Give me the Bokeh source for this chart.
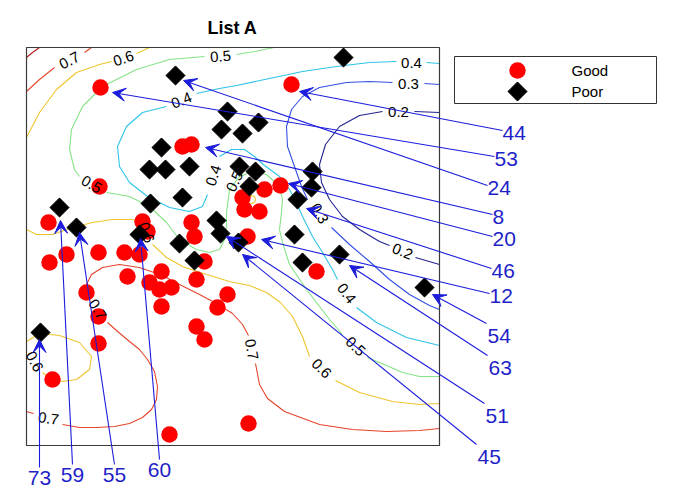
import math
from bokeh.plotting import figure
from bokeh.models import Range1d, ColumnDataSource, Arrow, VeeHead
from bokeh.core.properties import value
from bokeh.embed import file_html
from bokeh.resources import INLINE

nan = float("nan")

title_text = "List A"
classes = ["Good", "Poor"]

# limits of the plot box (data units)
x_lim = [0, 413]
y_lim = [0, 398]

# ---- scatter data ----
good_x = [74, 265, 156, 165, 73, 22, 116, 121, 40, 23, 72, 98, 113, 101, 135, 123, 145, 133, 135, 60,
          72, 72, 26, 143, 222, 165, 168, 178, 170, 201, 191, 170, 178, 216, 218, 233, 238, 254, 221, 290]
good_y = [358, 361, 299, 301, 259, 223, 224, 214, 191, 183, 193, 193, 191, 169, 174, 163, 158, 156, 139, 153,
          129, 102, 66, 11, 22, 223, 209, 184, 166, 151, 138, 119, 106, 248, 236, 234, 256, 260, 209, 174]

poor_x = [317, 149, 201, 195, 216, 232, 135, 123, 139, 163, 156, 124, 213, 229, 223, 286, 285, 271, 268, 276,
          313, 398, 33, 50, 113, 153, 168, 190, 194, 212, 14]
poor_y = [388, 370, 334, 316, 312, 323, 298, 276, 276, 279, 248, 242, 279, 274, 259, 274, 258, 246, 211, 183,
          191, 158, 238, 218, 211, 202, 185, 225, 212, 203, 113]

# ---- contour traces (NaN separates pieces) ----
c02_x = [413, 388, nan, 356, 333, 313, 299, 293, 295, 303, 316, 333, 353, 363, nan, 389, 413]
c02_y = [333, 334, nan, 334, 330, 319, 301, 281, 263, 246, 229, 216, 204, 200, nan, 188, 181]

c03_x = [413, 398, nan, 366, 343, 320, 293, 276, 265, 260, 261, 268, 275, 281, nan,
         305, 323, 343, 363, 383, 403, 413]
c03_y = [361, 362, nan, 363, 364, 363, 358, 349, 336, 319, 299, 279, 259, 246, nan,
         218, 201, 184, 166, 151, 140, 136]

c04_x = [413, 400, nan, 370, 343, 310, 276, 243, 210, 193, 170, nan,
         140, 116, 100, 91, 93, 103, 121, 143, 163, 176, 181, nan,
         193, 205, 218, 228, 238, 253, 263, 270, 276, 286, 296, 306, 311, nan,
         330, 350, 380, 413]
c04_y = [382, 383, nan, 384, 383, 379, 374, 367, 360, 357, 352, nan,
         339, 333, 319, 299, 279, 263, 249, 238, 234, 239, 251, nan,
         289, 296, 296, 289, 280, 269, 256, 243, 229, 209, 193, 176, 166, nan,
         138, 123, 108, 100]

c05_x = [248, 228, 210, nan, 178, 143, 110, 76, 56, 45, 43, 48, 53, nan,
         80, 103, 123, 140, 153, 170, 183, 193, 198, 200, 200, 203, 213, 226, 240, 253, 256, 255, 253,
         256, 263, 280, 303, 316, nan, 341, 353, 376, 393, 413]
c05_y = [398, 394, 391, nan, 389, 386, 376, 359, 339, 316, 296, 276, 269, nan,
         253, 249, 239, 223, 206, 196, 193, 196, 206, 219, 233, 256, 269, 274, 271, 259, 246, 233, 216,
         203, 181, 156, 126, 111, nan, 88, 83, 73, 69, 69]

c06_x = [0, 13, 30, 50, 73, 85, nan, 110, 123, nan,
         0, 10, 26, 46, 66, 86, 106, 113, nan,
         126, 140, 156, 180, 203, 223, 240, 254, 266, 276, 283, nan,
         309, 333, 366, 393, 413, nan,
         0, 13, 33, 53, 65, 63, 50, 36, 21, 16, nan,
         229, 228, 225, 222, 221, 222, 225, 228, 229]
c06_y = [308, 333, 356, 373, 381, 384, nan, 392, 398, nan,
         216, 211, 211, 218, 223, 226, 226, 224, nan,
         201, 188, 179, 171, 164, 160, 153, 143, 129, 109, 89, nan,
         65, 53, 44, 41, 42, nan,
         104, 112, 110, 103, 89, 76, 66, 64, 69, 73, nan,
         246, 249, 250, 249, 246, 243, 242, 243, 246]

c07_x = [0, 13, 28, nan, 58, 65, nan, 0, 7, nan,
         36, 53, 70, 88, 103, 116, 125, 130, 131, 128, 121, 113, 103, 90, 81, nan,
         61, 60, 65, 76, 93, 113, 136, 153, 173, 190, 206, 216, 222, nan,
         229, 233, 241, 258, 293, 326, 360, 393, 413]
c07_y = [354, 366, 378, nan, 393, 398, nan, 34, 32, nan,
         21, 18, 18, 19, 22, 28, 36, 46, 59, 74, 86, 96, 104, 115, 123, nan,
         149, 161, 171, 178, 181, 178, 170, 161, 151, 142, 132, 121, 110, nan,
         82, 61, 47, 34, 21, 16, 14, 15, 17]

c08_x = [0, 6, 13]
c08_y = [388, 393, 398]

contour_x = [c02_x, c03_x, c04_x, c05_x, c06_x, c07_x, c08_x]
contour_y = [c02_y, c03_y, c04_y, c05_y, c06_y, c07_y, c08_y]
contour_colors = ["#22228f", "#3350e6", "#2ec4e8", "#86e486", "#efc52e", "#e5452c", "#b41e1e"]

# contour labels
clabel_text = ["0.7", "0.6", "0.5", "0.4", "0.3", "0.2", "0.4", "0.5", "0.4", "0.5",
               "0.3", "0.6", "0.7", "0.7", "0.6", "0.5", "0.4", "0.2", "0.7", "0.6"]
clabel_x = [43, 97, 194, 385, 382, 372, 155, 65, 187, 208, 293, 120, 71, 225, 295, 329, 320, 376, 22, 8]
clabel_y = [385, 387, 389, 383, 362, 334, 345, 261, 270, 264, 232, 213, 136, 96, 77, 99, 152, 194, 27, 84]
clabel_angle = [27, 18, 4, 0, 0, 0, 22, -31, 72, 65, -60, -70, -58, -80, -45, -43, -52, -22, -8, -62]

# arrows
arrow_ids = ["44", "53", "24", "8", "20", "46", "12", "54", "63", "51", "45", "73", "59", "55", "60"]
arrow_tail_x = [476, 468, 461, 466, 466, 465, 463, 460, 461, 458, 450, 13, 46, 88, 133]
arrow_tail_y = [315, 289, 260, 231, 209, 177, 152, 122, 90, 42, 1, -22, -19, -19, -14]
arrow_head_x = [273, 86, 157, 179, 262, 280, 235, 406, 323, 200, 216, 13, 34, 53, 114]
arrow_head_y = [354, 353, 365, 298, 262, 237, 206, 151, 180, 209, 191, 106, 225, 213, 207]

# ---- figure ----
p = figure(width=669, height=494, x_range=Range1d(-26, 643), y_range=Range1d(-49, 445),
           output_backend="svg", toolbar_location=None, x_axis_location=None, y_axis_location=None,
           min_border=0, min_border_left=0, min_border_right=0, min_border_top=0, min_border_bottom=0)
p.xgrid.visible = False
p.ygrid.visible = False
p.outline_line_color = None
p.background_fill_color = "white"
p.border_fill_color = "white"

FONT = value("Liberation Sans")

# contour lines
for cx, cy, col in zip(contour_x, contour_y, contour_colors):
    p.line(cx, cy, line_color=col, line_width=1.1)

# plot box
p.quad(left=[x_lim[0]], right=[x_lim[1]], bottom=[y_lim[0]], top=[y_lim[1]],
       fill_color=None, line_color="#3a3a3a", line_width=1.2)

# points
p.scatter(good_x, good_y, marker="circle", size=16.5, fill_color="#ff0000", line_color=None)
p.scatter(poor_x, poor_y, marker="square", angle=math.pi / 4, size=13.5,
          fill_color="black", line_color="black")

# contour labels
csrc = ColumnDataSource(dict(x=clabel_x, y=clabel_y, text=clabel_text,
                             angle=[math.radians(a) for a in clabel_angle]))
p.text(x="x", y="y", text="text", angle="angle", source=csrc, text_align="center",
       text_baseline="middle", text_font=FONT, text_font_size=value("15px"), text_color="black")

# arrows
asrc = ColumnDataSource(dict(xs=arrow_tail_x, ys=arrow_tail_y, xe=arrow_head_x, ye=arrow_head_y))
arrow_col = "#1c1cdc"
p.add_layout(Arrow(end=VeeHead(size=13, fill_color=arrow_col, line_color=arrow_col, line_width=1),
                   x_start="xs", y_start="ys", x_end="xe", y_end="ye", source=asrc,
                   line_color=arrow_col, line_width=1.1))

groups = {"side": dict(x=[], y=[], t=[]), "steep": dict(x=[], y=[], t=[]), "down": dict(x=[], y=[], t=[])}
for lab, tx, ty, hx, hy in zip(arrow_ids, arrow_tail_x, arrow_tail_y, arrow_head_x, arrow_head_y):
    dx, dy = tx - hx, ty - hy
    slope = abs(dy / dx) if dx != 0 else 1e9
    key = "down" if slope > 2 else ("side" if slope < 0.45 else "steep")
    groups[key]["x"].append(tx)
    groups[key]["y"].append(ty)
    groups[key]["t"].append(lab)
styles = {"side": ("left", "middle", 0, 2), "steep": ("left", "top", 1, 5), "down": ("center", "top", 0, 3)}
for key, g in groups.items():
    al, bl, xo, yo = styles[key]
    p.text(g["x"], g["y"], text=g["t"], text_align=al, text_baseline=bl, x_offset=xo, y_offset=yo,
           text_font=FONT, text_font_size=value("21px"), text_color="#1f1fc8")

# title
p.text([206], [418], text=[title_text], text_align="center", text_baseline="middle",
       text_font=FONT, text_font_size=value("18px"), text_font_style="bold", text_color="black")

# legend
p.quad(left=[428], right=[630], bottom=[342], top=[389], fill_color="white", line_color="#333333",
       line_width=1)
p.scatter([491], [375], marker="circle", size=16.5, fill_color="#ff0000", line_color=None)
p.scatter([491], [354], marker="square", angle=math.pi / 4, size=13.5, fill_color="black",
          line_color="black")
p.text([545, 545], [375, 354], text=classes, text_align="left", text_baseline="middle",
       text_font=FONT, text_font_size=value("15px"), text_color="black")

open("out.html", "w").write(file_html(p, INLINE))
